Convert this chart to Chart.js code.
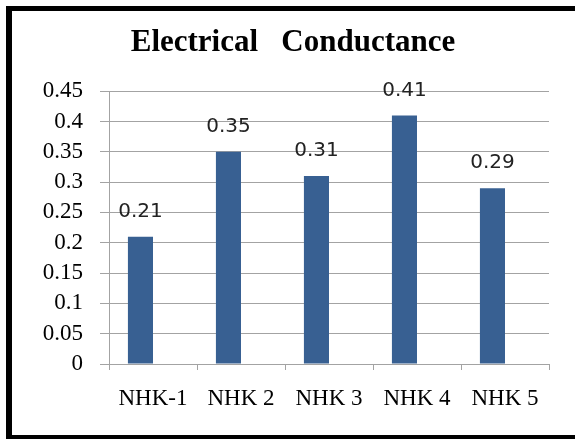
<!DOCTYPE html>
<html>
<head>
<meta charset="utf-8">
<script src="https://cdn.jsdelivr.net/npm/chart.js@4/dist/chart.umd.min.js"></script>
<style>
  html, body { margin: 0; padding: 0; background: #fff; }
  #wrap { position: relative; width: 575px; height: 439px; }
</style>
</head>
<body>
<div id="wrap"><canvas id="chart" width="575" height="439"></canvas></div>
<script>
// Sample names and measured electrical conductance
const categories = ['NHK-1', 'NHK 2', 'NHK 3', 'NHK 4', 'NHK 5'];
const conductance = [0.21, 0.35, 0.31, 0.41, 0.29];
// Empty companion series: keeps the bars in the left half of each slot
const emptySeries = [null, null, null, null, null];
const yMax = 0.45;
const yStep = 0.05;

const GRID = '#a3a3a3';
const BAR = '#386092';

// Black frame around the chart (top, left and bottom edges)
const framePlugin = {
  id: 'frame',
  afterDraw(chart) {
    const ctx = chart.ctx;
    ctx.save();
    ctx.fillStyle = '#000';
    ctx.fillRect(6, 6, 569, 5);
    ctx.fillRect(6, 6, 6, 433);
    ctx.fillRect(6, 435, 569, 4);
    ctx.restore();
  }
};

// Value written above each bar
const valueLabels = {
  id: 'valueLabels',
  afterDatasetsDraw(chart) {
    const ctx = chart.ctx;
    const meta = chart.getDatasetMeta(0);
    ctx.save();
    ctx.font = '20px "DejaVu Sans"';
    ctx.fillStyle = '#222';
    ctx.textAlign = 'center';
    ctx.textBaseline = 'middle';
    meta.data.forEach((bar, i) => {
      const v = chart.data.datasets[0].data[i];
      ctx.fillText(String(v), bar.x, bar.y - 25);
    });
    ctx.restore();
  }
};

new Chart(document.getElementById('chart'), {
  type: 'bar',
  data: {
    labels: categories,
    datasets: [
      { label: 'Electrical Conductance', data: conductance, backgroundColor: BAR,
        categoryPercentage: 0.57, barPercentage: 1.0 },
      { label: '', data: emptySeries, backgroundColor: BAR,
        categoryPercentage: 0.57, barPercentage: 1.0 }
    ]
  },
  options: {
    responsive: false,
    animation: false,
    layout: { padding: { left: 37, right: 26, top: 0, bottom: 0 } },
    plugins: {
      legend: { display: false },
      tooltip: { enabled: false },
      title: {
        display: true,
        text: 'Electrical   Conductance',
        color: '#000',
        font: { family: '"Liberation Serif"', size: 31, weight: 'bold' },
        padding: { top: 24, bottom: 30 }
      }
    },
    scales: {
      x: {
        afterFit(scale) { scale.height = 75; },
        grid: { display: true, drawOnChartArea: false, drawTicks: true, tickLength: 6, color: GRID, offset: true },
        border: { display: true, color: GRID, width: 1 },
        ticks: {
          color: '#000',
          padding: 15,
          maxRotation: 0,
          autoSkip: false,
          font: { family: '"Liberation Serif"', size: 23 }
        }
      },
      y: {
        min: 0,
        max: yMax,
        afterFit(scale) { scale.width = 72; },
        grid: { color: GRID, tickLength: 9, lineWidth: 1 },
        border: { display: true, color: GRID, width: 1 },
        ticks: {
          stepSize: yStep,
          autoSkip: false,
          color: '#000',
          padding: 17,
          font: { family: '"Liberation Serif"', size: 23 },
          callback: (v) => String(Number(Number(v).toFixed(2)))
        }
      }
    }
  },
  plugins: [framePlugin, valueLabels]
});
</script>
</body>
</html>
